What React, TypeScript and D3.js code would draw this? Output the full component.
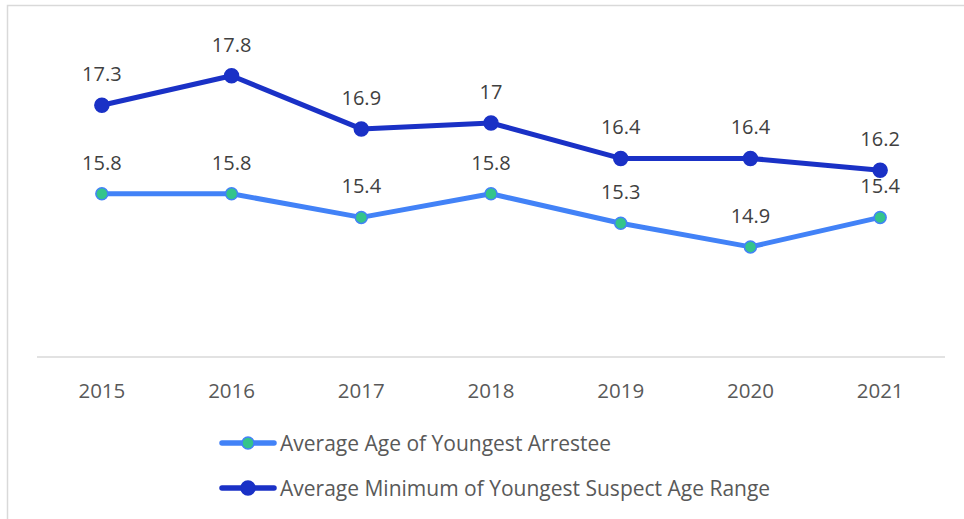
import React, { useEffect, useRef } from 'react';
import * as d3 from 'd3';

const years = ['2015', '2016', '2017', '2018', '2019', '2020', '2021'];
const arresteeAge = [15.8, 15.8, 15.4, 15.8, 15.3, 14.9, 15.4];
const suspectMinAge = [17.3, 17.8, 16.9, 17, 16.4, 16.4, 16.2];
const seriesNames = ['Average Age of Youngest Arrestee', 'Average Minimum of Youngest Suspect Age Range'];

const App: React.FC = () => {
    const ref = useRef<SVGSVGElement>(null);

    useEffect(() => {
        const svg = d3.select(ref.current);
        svg.selectAll('*').remove();

        const W = 964, H = 519;
        const font = "'Open Sans', sans-serif";

        // chart frame (partly cut off by the crop)
        svg.append('path')
            .attr('d', `M7.5,${H} V5.5 H${W}`)
            .attr('fill', 'none')
            .attr('stroke', '#d9d9d9')
            .attr('stroke-width', 1.5);

        const x = d3.scaleBand().domain(years).range([37, 945]);
        const y = d3.scaleLinear().domain([13, 18]).range([359, 64]);
        const cx = (d: string) => (x(d) as number) + x.bandwidth() / 2;

        // category axis
        svg.append('line')
            .attr('x1', 37).attr('x2', 945)
            .attr('y1', 357).attr('y2', 357)
            .attr('stroke', '#d9d9d9').attr('stroke-width', 1.5);

        svg.append('g').selectAll('text')
            .data(years)
            .enter()
            .append('text')
            .attr('x', d => cx(d))
            .attr('y', 398)
            .attr('text-anchor', 'middle')
            .attr('font-family', font)
            .attr('font-size', 20.5)
            .attr('fill', '#595959')
            .text(d => d);

        const series = [
            { name: seriesNames[0], values: arresteeAge, line: '#4282f7', fill: '#34c48b', r: 6 },
            { name: seriesNames[1], values: suspectMinAge, line: '#1a31c6', fill: '#1a31c6', r: 7 },
        ];

        series.forEach(s => {
            const pts = years.map((yr, i) => ({ yr, v: s.values[i] }));
            const line = d3.line<{ yr: string, v: number }>()
                .x(d => cx(d.yr))
                .y(d => y(d.v));

            svg.append('path')
                .datum(pts)
                .attr('d', line)
                .attr('fill', 'none')
                .attr('stroke', s.line)
                .attr('stroke-width', 5)
                .attr('stroke-linejoin', 'round');

            svg.append('g').selectAll('circle')
                .data(pts)
                .enter()
                .append('circle')
                .attr('cx', d => cx(d.yr))
                .attr('cy', d => y(d.v))
                .attr('r', s.r)
                .attr('fill', s.fill)
                .attr('stroke', s.line)
                .attr('stroke-width', 1.5);

            svg.append('g').selectAll('text')
                .data(pts)
                .enter()
                .append('text')
                .attr('x', d => cx(d.yr))
                .attr('y', d => y(d.v) - 24)
                .attr('text-anchor', 'middle')
                .attr('font-family', font)
                .attr('font-size', 20)
                .attr('fill', '#404040')
                .text(d => String(d.v));
        });

        // legend
        const legend = svg.append('g');
        series.forEach((s, i) => {
            const ly = 443 + i * 45;
            legend.append('line')
                .attr('x1', 222).attr('x2', 274)
                .attr('y1', ly).attr('y2', ly)
                .attr('stroke', s.line).attr('stroke-width', 5.5)
                .attr('stroke-linecap', 'round');
            legend.append('circle')
                .attr('cx', 248).attr('cy', ly).attr('r', s.r)
                .attr('fill', s.fill)
                .attr('stroke', s.line).attr('stroke-width', 1.5);
            legend.append('text')
                .attr('x', 280).attr('y', ly + 7.5)
                .attr('font-family', font)
                .attr('font-size', 21)
                .attr('fill', '#595959')
                .text(s.name);
        });
    }, []);

    return (
        <svg ref={ref} width={964} height={519}
            style={{ position: 'absolute', left: 0, top: 0, background: '#fff' }} />
    );
};

export default App;
